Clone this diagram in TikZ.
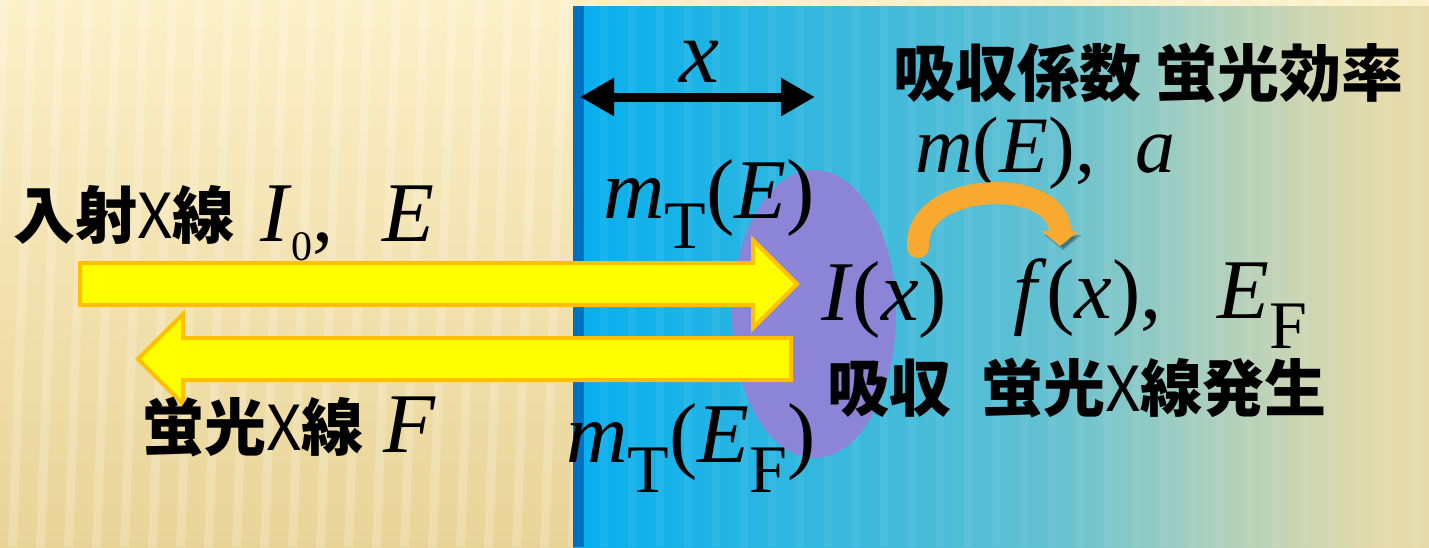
\documentclass[tikz,border=0pt]{standalone}
\usepackage{fontspec}
\setmainfont{Liberation Serif}
\newfontfamily\jpfont{Noto Sans CJK JP}
\usepackage{tikz}
\usetikzlibrary{arrows.meta, shapes.arrows, shapes.geometric}

\definecolor{sandlight}{RGB}{252,240,200}
\definecolor{sanddark}{RGB}{233,212,152}
\definecolor{sampleblue}{RGB}{5,175,238}
\definecolor{sampleteal}{RGB}{60,185,220}
\definecolor{samplemid}{RGB}{100,193,208}
\definecolor{samplepale}{RGB}{170,207,190}
\definecolor{sampleend}{RGB}{228,218,170}
\definecolor{edgeblue}{RGB}{0,112,192}
\definecolor{spotviolet}{RGB}{140,133,215}
\definecolor{rayfill}{RGB}{255,255,0}
\definecolor{rayedge}{RGB}{255,192,0}
\definecolor{arcorange}{RGB}{249,168,48}

\pgfdeclarehorizontalshading{samplefade}{100bp}{color(0bp)=(sampleblue); color(25bp)=(sampleblue); color(42bp)=(sampleteal); color(53bp)=(samplemid); color(62bp)=(samplepale); color(72bp)=(sampleend); color(100bp)=(sampleend)}

% raised or lowered index in its own size
\newcommand\lowidx[3]{\raisebox{#1}{\fontsize{#2}{#2}\selectfont #3}}
% thin X inside bold Japanese labels
\newcommand\thinx{{\mdseries X}}

\begin{document}
\begin{tikzpicture}[
    x=1pt, y=-1pt,
    mathlbl/.style={inner sep=0pt, anchor=base west, font=\fontsize{85}{85}\selectfont},
    jplbl/.style={inner sep=0pt, anchor=base west, font=\jpfont\bfseries\fontsize{62}{62}\selectfont},
    xray/.style={single arrow, draw=rayedge, fill=rayfill, line width=4pt, inner sep=19pt, anchor=tail},
    span/.style={{Triangle[width=36pt,length=34pt]}-{Triangle[width=36pt,length=34pt]}, line width=9pt},
    turn/.style={-{Triangle[width=36pt,length=15pt]}, line width=22pt, arcorange, line cap=round},
]

% Background
\useasboundingbox (0,0) rectangle (1429,547);
\fill[top color=sandlight, bottom color=sanddark] (0,0) rectangle (1429,547);
\foreach \s in {0,28,...,1456}
  \fill[white, opacity=0.2] (\s,0) -- (\s+9,0) -- (\s-11,547) -- (\s-20,547) -- cycle;
\fill[shading=samplefade] (573,6) rectangle (1429,547);
\fill[edgeblue] (573,6) rectangle (584,547);
\foreach \s in {600,628,...,1456}
  \fill[white, opacity=0.06] (\s,6) -- (\s+8,6) -- (\s+8,547) -- (\s,547) -- cycle;

% Sample
\node[ellipse, fill=spotviolet, minimum width=164pt, minimum height=288pt, inner sep=0pt] (spot) at (814,314) {};

% X-rays
\node[xray, minimum height=717pt, single arrow head extend=23pt] (inray) at (78,284) {};
\node[xray, minimum height=653pt, single arrow head extend=24pt, shape border rotate=180] (outray) at (793,359) {};

% Depth
\coordinate (spanL) at (580,97);
\coordinate (spanR) at (815,97);
\draw[span] (spanL) -- (spanR);
\node[mathlbl, font=\fontsize{90}{90}\selectfont] (depth) at (679,82) {\textit{x}};

% Labels
\node[jplbl] (inlbl) at (13,238) {入射\thinx 線};
\node[mathlbl] (inmath) at (260,241) {\textit{I}\lowidx{-19pt}{42}{0},\hspace{48pt}\textit{E}};
\node[jplbl] (outlbl) at (142,450) {蛍光\thinx 線};
\node[mathlbl] (outmath) at (383,452) {\textit{F}};
\node[mathlbl] (muin) at (603,218) {\textit{m}\lowidx{-30pt}{68}{T}(\textit{E})};
\node[mathlbl] (muout) at (566,462) {\textit{m}\lowidx{-30pt}{68}{T}(\textit{E}\lowidx{-30pt}{68}{F})};
\node[jplbl] (coef) at (893,96) {吸収係数\hspace{14pt}蛍光効率};
\node[mathlbl, font=\fontsize{80}{80}\selectfont] (coefmath) at (915,172) {\textit{m}(\textit{E}),\hspace{40pt}\textit{a}};
\node[mathlbl] (absint) at (821,320) {\textit{I}(\textit{x})};
\node[mathlbl] (fluor) at (1013,318) {\textit{f}(\textit{x}),\hspace{55pt}\textit{E}\lowidx{-30pt}{68}{F}};
\node[jplbl] (step) at (827,411) {吸収\hspace{30pt}蛍光\thinx 線発生};

% Conversion
\coordinate (turnL) at (918,247);
\coordinate (turnR) at (1060,246);
\draw[turn, preaction={draw=black, opacity=0.25, transform canvas={shift={(3pt,-4pt)}}}] (turnL) .. controls (914,180) and (1060,176) .. (turnR);

\end{tikzpicture}
\end{document}
